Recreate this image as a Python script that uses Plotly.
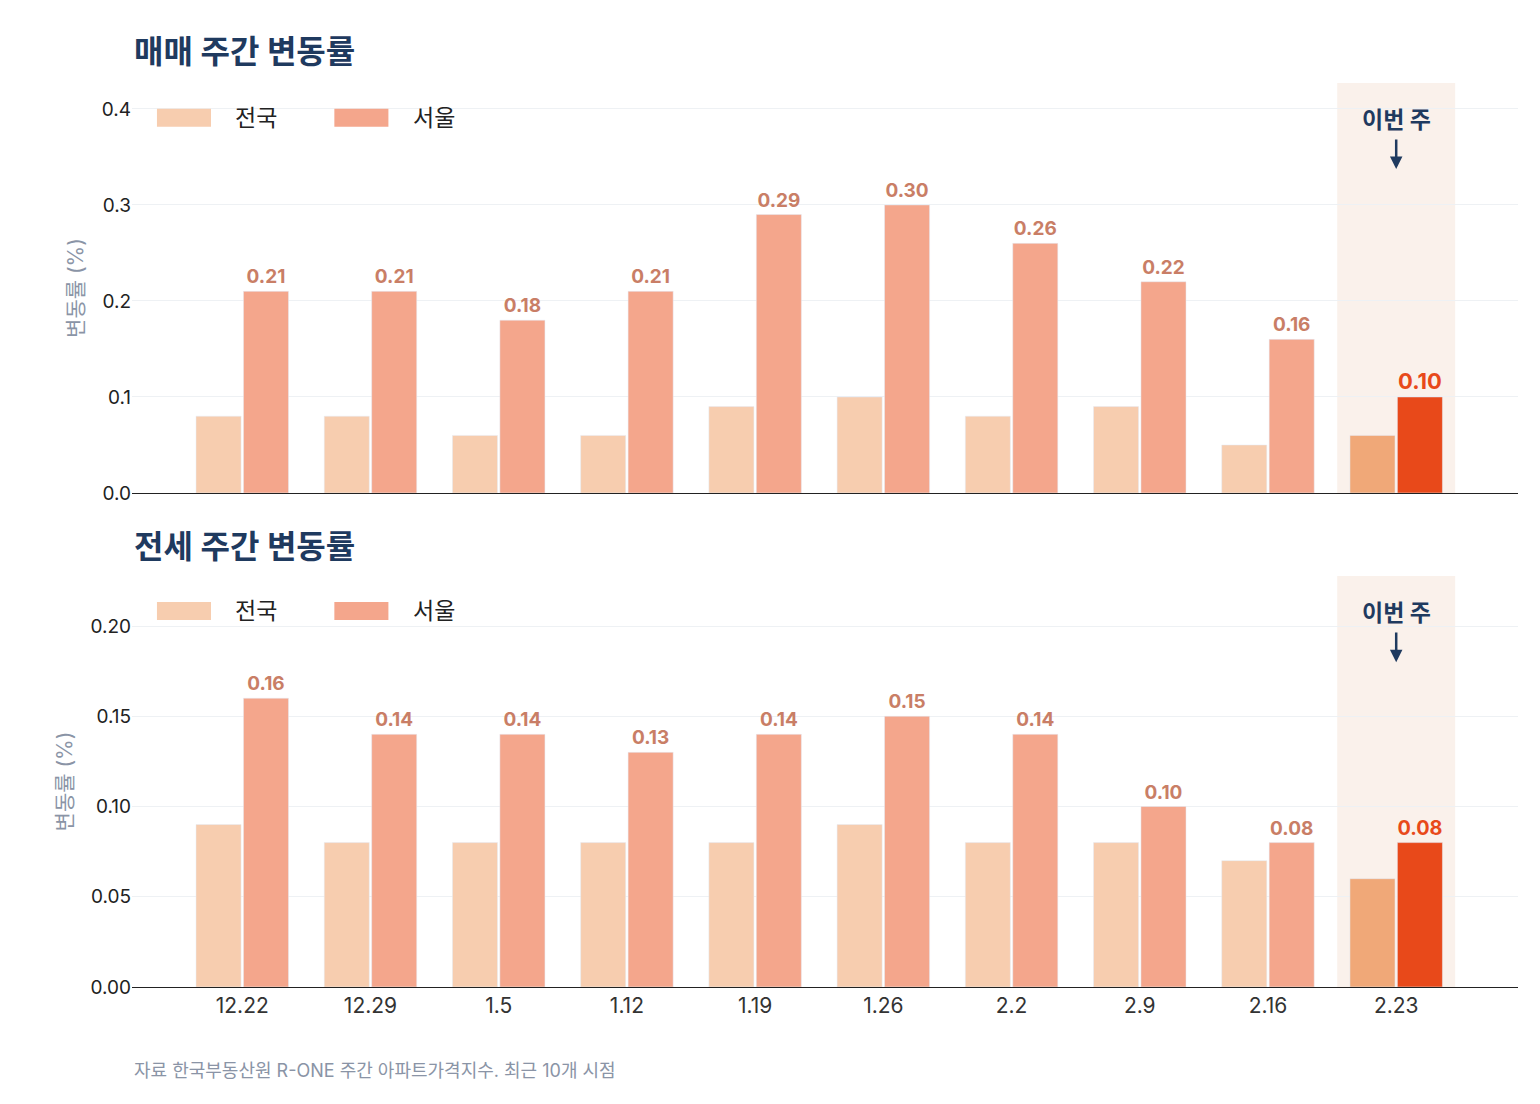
import plotly.graph_objects as go
from plotly.subplots import make_subplots

weeks = ["12.22", "12.29", "1.5", "1.12", "1.19", "1.26", "2.2", "2.9", "2.16", "2.23"]
sale_nation = [0.08, 0.08, 0.06, 0.06, 0.09, 0.10, 0.08, 0.09, 0.05, 0.06]
sale_seoul = [0.21, 0.21, 0.18, 0.21, 0.29, 0.30, 0.26, 0.22, 0.16, 0.10]
rent_nation = [0.09, 0.08, 0.08, 0.08, 0.08, 0.09, 0.08, 0.08, 0.07, 0.06]
rent_seoul = [0.16, 0.14, 0.14, 0.13, 0.14, 0.15, 0.14, 0.10, 0.08, 0.08]

FONT = "Inter, Noto Sans CJK KR"
NAVY = "#1F3A5F"
C_NAT, C_SEO = "#F7CDAF", "#F4A68C"
H_NAT, H_SEO = "#F0A878", "#E8491A"
LBL = "#C97E66"

W, H = 1540, 1104
ML, MR, MT, MB = 124, 30, 75, 125
PH = H - MT - MB
top_dom = [(979 - 485) / PH, 1]
bot_dom = [0, (979 - 568) / PH]

fig = make_subplots(rows=2, cols=1, vertical_spacing=0.1)
xs = list(range(len(weeks)))
n = len(weeks)

panels = [(1, sale_nation, sale_seoul, [0, 0.427], [0, 0.1, 0.2, 0.3, 0.4], "%.1f"),
          (2, rent_nation, rent_seoul, [0, 0.2277], [0, 0.05, 0.1, 0.15, 0.2], "%.2f")]
for row, nat, seo, rng, tv, fmt in panels:
    fig.add_trace(go.Bar(x=xs, y=nat, marker_color=[C_NAT] * (n - 1) + [H_NAT],
                         showlegend=False, hoverinfo="y"), row=row, col=1)
    fig.add_trace(go.Bar(x=xs, y=seo, marker_color=[C_SEO] * (n - 1) + [H_SEO],
                         text=["<b>%.2f</b>" % v for v in seo], textposition="outside",
                         textfont=dict(color=[LBL] * (n - 1) + [H_SEO],
                                       size=[19] * (n - 1) + [22], family=FONT),
                         cliponaxis=False, showlegend=False, hoverinfo="y"), row=row, col=1)
    fig.update_yaxes(range=rng, tickvals=tv, ticktext=[fmt % v for v in tv],
                     showgrid=True, gridcolor="#EEF1F4", zeroline=False, automargin=False,
                     showline=False, ticks="", tickfont=dict(size=19, color="#222"),
                     title=dict(text="변동률 (%)", font=dict(size=21, color="#8A94A6"), standoff=12),
                     row=row, col=1)
    fig.update_xaxes(range=[-0.86, 9.95], tickvals=xs, ticktext=weeks if row == 2 else None,
                     showticklabels=(row == 2), showline=True, linecolor="#222", automargin=False,
                     tickfont=dict(size=21, color="#333"), ticks="", row=row, col=1)
    xr = "x" if row == 1 else "x2"
    yr = "y" if row == 1 else "y2"
    fig.add_shape(type="rect", xref=xr, yref=yr + " domain", x0=8.54, x1=9.46, y0=0, y1=1,
                  fillcolor="#FAF1EB", line_width=0, layer="below")
    fig.add_annotation(xref=xr, yref=yr + " domain", x=9, y=0.91, yanchor="middle",
                       text="<b>이번 주</b>",
                       showarrow=False, font=dict(size=23, color=NAVY, family=FONT))
    fig.add_annotation(xref=xr, yref=yr + " domain", x=9, y=0.79, ax=9, ay=0.866,
                       axref=xr, ayref=yr + " domain", text="", showarrow=True,
                       arrowhead=2, arrowsize=1, arrowwidth=2.5, arrowcolor=NAVY)
    # manual legend
    ly = 0.915
    xd = "x domain" if row == 1 else "x2 domain"
    for i, (name, col) in enumerate([("전국", C_NAT), ("서울", C_SEO)]):
        x0 = 0.018 + i * 0.128
        fig.add_shape(type="rect", xref=xd, yref=yr + " domain",
                      x0=x0, x1=x0 + 0.039, y0=ly - 0.022, y1=ly + 0.022,
                      fillcolor=col, line_width=0)
        fig.add_annotation(xref=xd, yref=yr + " domain", x=x0 + 0.055, y=ly,
                           xanchor="left", yanchor="middle", text=name, showarrow=False,
                           font=dict(size=23, color="#222", family=FONT))

fig.update_layout(yaxis=dict(domain=top_dom), yaxis2=dict(domain=bot_dom))

for ypx, txt in [(44, "<b>매매 주간 변동률</b>"), (538, "<b>전세 주간 변동률</b>")]:
    fig.add_annotation(xref="paper", yref="paper", x=0, y=(H - MB - ypx) / PH, yanchor="middle",
                       xanchor="left", text=txt, showarrow=False,
                       font=dict(size=32, color=NAVY, family=FONT))
fig.add_annotation(xref="paper", yref="paper", x=0, y=(H - MB - 1062) / PH, yanchor="middle",
                   xanchor="left", text="자료 한국부동산원 R-ONE 주간 아파트가격지수. 최근 10개 시점",
                   showarrow=False, font=dict(size=18, color="#8A94A6", family=FONT))

fig.update_layout(width=W, height=H, margin=dict(l=ML, r=MR, t=MT, b=MB, autoexpand=False),
                  barmode="group", bargap=0.26, bargroupgap=0.05,
                  plot_bgcolor="white", paper_bgcolor="white",
                  font=dict(family=FONT))
fig.write_html("out.html")
